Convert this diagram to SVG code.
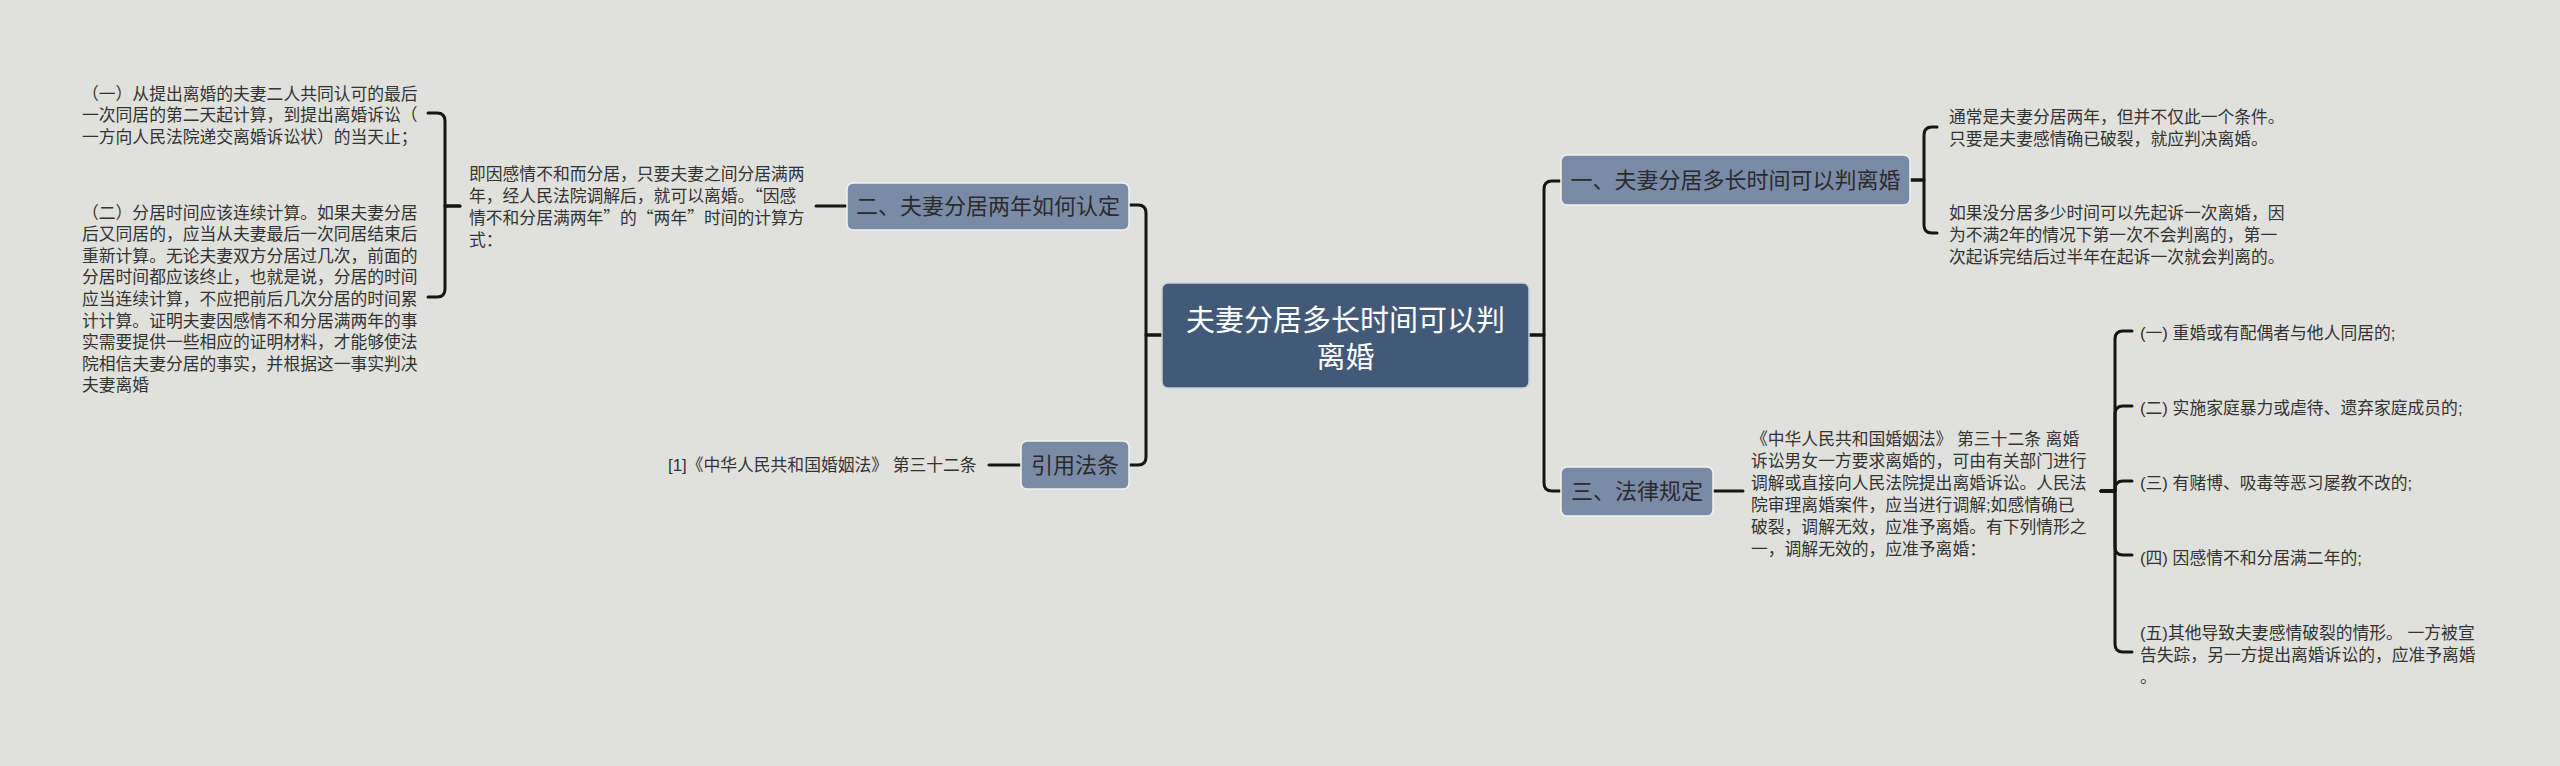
<svg xmlns="http://www.w3.org/2000/svg" width="2560" height="766" viewBox="0 0 2560 766">
<style>
.bg{fill:#e0e1dc}
.node rect{fill:#7a8ba8;stroke:#f2f2f0;stroke-width:1.5}
.node text{font-family:"Liberation Sans","Noto Sans CJK SC",sans-serif;font-size:22px;fill:#2b2b2b;text-anchor:middle}
.root rect{fill:#425978;stroke:#c8d0dc;stroke-width:1.5}
.root text{font-family:"Liberation Sans","Noto Sans CJK SC",sans-serif;font-size:29px;fill:#ffffff;text-anchor:middle}
.leaf text{font-family:"Liberation Sans","Noto Sans CJK SC",sans-serif;font-size:16.8px;fill:#333333}
.leaf text.cjk{font-family:"Noto Sans CJK SC","Liberation Sans",sans-serif}
.conn path{fill:none;stroke:#151515;stroke-width:3;stroke-linecap:round;stroke-linejoin:round}
</style>
<rect class="bg" x="0" y="0" width="2560" height="766"/>
<g id="connectors" class="conn">
  <path d="M1529,335 L1544,335 L1544,189 Q1544,181 1552,181 L1561,181"/>
  <path d="M1529,335 L1544,335 L1544,483 Q1544,491 1552,491 L1561,491"/>
  <path d="M1162,335 L1146,335 L1146,213 Q1146,205 1138,205 L1129,205"/>
  <path d="M1162,335 L1146,335 L1146,457 Q1146,465 1138,465 L1129,465"/>
  <path d="M1910,180 L1924,180 L1924,135 Q1924,127 1932,127 L1937,127"/>
  <path d="M1910,180 L1924,180 L1924,225 Q1924,233 1932,233 L1937,233"/>
  <path d="M847,206 L816,206"/>
  <path d="M460,206 L445,206 L445,121 Q445,113 437,113 L428,113"/>
  <path d="M460,206 L445,206 L445,289 Q445,297 437,297 L428,297"/>
  <path d="M1021,465 L989,465"/>
  <path d="M1713,491 L1743,491"/>
  <path d="M2101,491 L2115,491 L2115,339 Q2115,331 2123,331 L2132,331"/>
  <path d="M2101,491 L2115,491 L2115,414 Q2115,406 2123,406 L2132,406"/>
  <path d="M2101,491 L2115,491 L2115,489 Q2115,481 2123,481 L2132,481"/>
  <path d="M2101,491 L2115,491 L2115,547 Q2115,555 2123,555 L2132,555"/>
  <path d="M2101,491 L2115,491 L2115,644 Q2115,652 2123,652 L2132,652"/>
</g>
<g id="root" class="root">
  <rect x="1162" y="283" width="367" height="105" rx="6"/>
  <text x="1345.5" y="331">夫妻分居多长时间可以判</text>
  <text x="1345.5" y="368">离婚</text>
</g>
<g id="n1" class="node">
  <rect x="1561" y="155" width="349" height="50" rx="6"/>
  <text x="1735.5" y="188">一、夫妻分居多长时间可以判离婚</text>
</g>
<g id="n2" class="node">
  <rect x="847" y="183" width="282" height="47" rx="6"/>
  <text x="988" y="214">二、夫妻分居两年如何认定</text>
</g>
<g id="n3" class="node">
  <rect x="1561" y="467" width="152" height="49" rx="6"/>
  <text x="1637" y="499">三、法律规定</text>
</g>
<g id="n4" class="node">
  <rect x="1021" y="441" width="108" height="48" rx="6"/>
  <text x="1075" y="473">引用法条</text>
</g>
<g id="t1a" class="leaf">
  <text x="1949" y="122.5"><tspan x="1949">通常是夫妻分居两年，但并不仅此一个条件。</tspan><tspan x="1949" dy="22">只要是夫妻感情确已破裂，就应判决离婚。</tspan></text>
</g>
<g id="t1b" class="leaf">
  <text x="1949" y="218.5"><tspan x="1949">如果没分居多少时间可以先起诉一次离婚，因</tspan><tspan x="1949" dy="22">为不满2年的情况下第一次不会判离的，第一</tspan><tspan x="1949" dy="22">次起诉完结后过半年在起诉一次就会判离的。</tspan></text>
</g>
<g id="t2" class="leaf">
  <text class="cjk" x="469" y="180"><tspan x="469">即因感情不和而分居，只要夫妻之间分居满两</tspan><tspan x="469" dy="22">年，经人民法院调解后，就可以离婚。“因感</tspan><tspan x="469" dy="22">情不和分居满两年”的“两年”时间的计算方</tspan><tspan x="469" dy="22">式：</tspan></text>
</g>
<g id="t2a" class="leaf">
  <text x="82" y="99.5"><tspan x="82">（一）从提出离婚的夫妻二人共同认可的最后</tspan><tspan x="82" dy="21.8">一次同居的第二天起计算，到提出离婚诉讼（</tspan><tspan x="82" dy="21.8">一方向人民法院递交离婚诉讼状）的当天止；</tspan></text>
</g>
<g id="t2b" class="leaf">
  <text x="82" y="218.5"><tspan x="82">（二）分居时间应该连续计算。如果夫妻分居</tspan><tspan x="82" dy="21.6">后又同居的，应当从夫妻最后一次同居结束后</tspan><tspan x="82" dy="21.6">重新计算。无论夫妻双方分居过几次，前面的</tspan><tspan x="82" dy="21.6">分居时间都应该终止，也就是说，分居的时间</tspan><tspan x="82" dy="21.6">应当连续计算，不应把前后几次分居的时间累</tspan><tspan x="82" dy="21.6">计计算。证明夫妻因感情不和分居满两年的事</tspan><tspan x="82" dy="21.6">实需要提供一些相应的证明材料，才能够使法</tspan><tspan x="82" dy="21.6">院相信夫妻分居的事实，并根据这一事实判决</tspan><tspan x="82" dy="21.6">夫妻离婚</tspan></text>
</g>
<g id="t4" class="leaf">
  <text x="668" y="471">[1]《中华人民共和国婚姻法》 第三十二条</text>
</g>
<g id="t3" class="leaf">
  <text x="1751" y="444.5"><tspan x="1751">《中华人民共和国婚姻法》 第三十二条 离婚</tspan><tspan x="1751" dy="22">诉讼男女一方要求离婚的，可由有关部门进行</tspan><tspan x="1751" dy="22">调解或直接向人民法院提出离婚诉讼。人民法</tspan><tspan x="1751" dy="22">院审理离婚案件，应当进行调解;如感情确已</tspan><tspan x="1751" dy="22">破裂，调解无效，应准予离婚。有下列情形之</tspan><tspan x="1751" dy="22">一，调解无效的，应准予离婚：</tspan></text>
</g>
<g id="t3a" class="leaf"><text x="2140" y="338.5">(一) 重婚或有配偶者与他人同居的;</text></g>
<g id="t3b" class="leaf"><text x="2140" y="413.5">(二) 实施家庭暴力或虐待、遗弃家庭成员的;</text></g>
<g id="t3c" class="leaf"><text x="2140" y="488.5">(三) 有赌博、吸毒等恶习屡教不改的;</text></g>
<g id="t3d" class="leaf"><text x="2140" y="563.5">(四) 因感情不和分居满二年的;</text></g>
<g id="t3e" class="leaf">
  <text x="2140" y="638.5"><tspan x="2140">(五)其他导致夫妻感情破裂的情形。 一方被宣</tspan><tspan x="2140" dy="22">告失踪，另一方提出离婚诉讼的，应准予离婚</tspan><tspan x="2140" dy="22">。</tspan></text>
</g>
</svg>
